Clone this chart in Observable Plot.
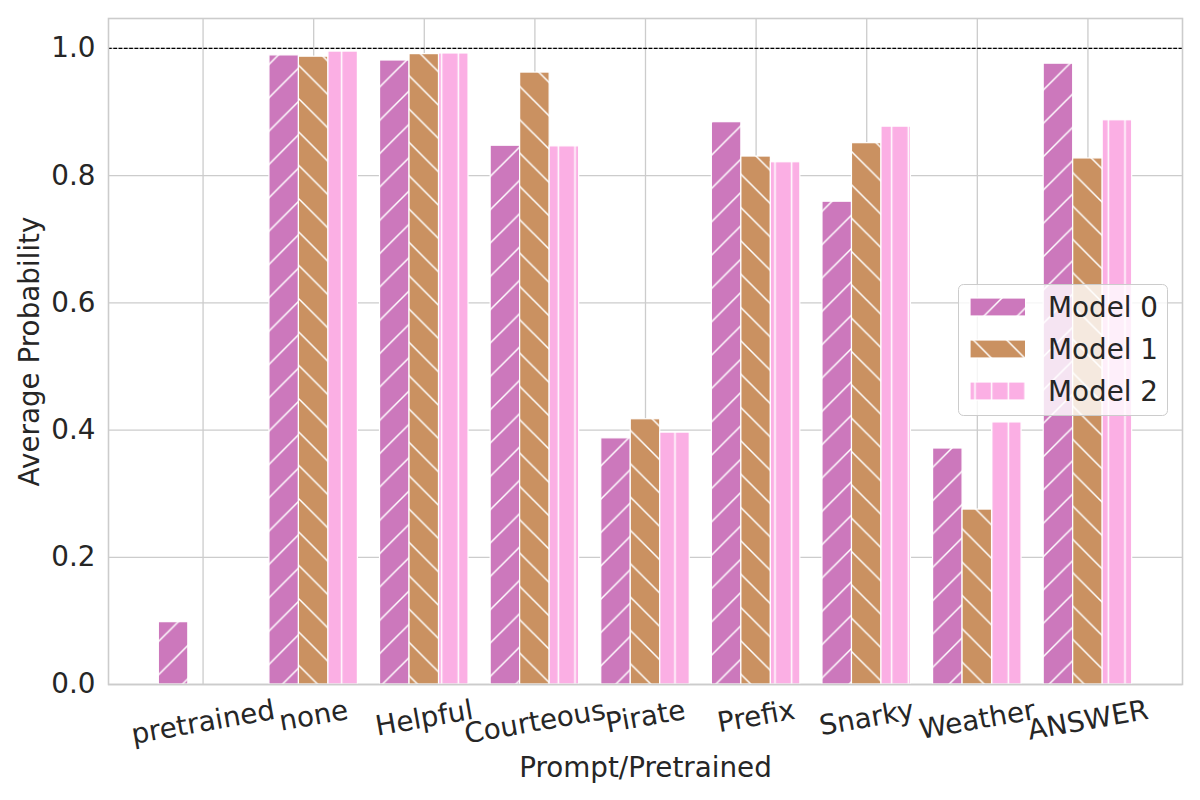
<!DOCTYPE html>
<html>
<head>
<meta charset="utf-8">
<script src="https://cdn.jsdelivr.net/npm/d3@7"></script>
<script src="https://cdn.jsdelivr.net/npm/@observablehq/plot@0.6"></script>
<style>
  body { margin: 0; background: #ffffff; }
  #chart { width: 1200px; height: 800px; }
</style>
</head>
<body>
<div id="chart"></div>
<script>
// ---- data ----
const categories = ["pretrained", "none", "Helpful", "Courteous", "Pirate", "Prefix", "Snarky", "Weather", "ANSWER"];
const models = ["Model 0", "Model 1", "Model 2"];
const model0 = [0.098, 0.989, 0.981, 0.847, 0.387, 0.884, 0.759, 0.371, 0.976];
const model1 = [0.0, 0.987, 0.991, 0.962, 0.417, 0.830, 0.851, 0.275, 0.827];
const model2 = [0.0, 0.995, 0.992, 0.846, 0.396, 0.821, 0.877, 0.412, 0.887];
const yTicks = [0.0, 0.2, 0.4, 0.6, 0.8, 1.0];
const referenceLine = [1.0];
const xLabel = "Prompt/Pretrained";
const yLabel = "Average Probability";

// ---- styling ----
const colors = ["#CC78BC", "#CA9161", "#FBAFE4"];
const W = 1200, H = 800;
const mL = 108, mR = 18, mT = 18, mB = 116;
const padOuter = 0.355;
const fontPx = 27.8;
const textColor = "#262626";
const gridColor = "#cccccc";

const series = [model0, model1, model2];
const rows = categories.flatMap((c, i) => models.map((m, j) => ({category: c, model: m, value: series[j][i]})));

// band geometry (grouped bars, 0.8 of the band, split among models)
const step = (W - mL - mR) / (categories.length + 2 * padOuter);
const barW = step * 0.8 / models.length;
const edge = step * 0.1;

// measure label widths to emulate matplotlib rotated label placement
const ctx = document.createElement("canvas").getContext("2d");
ctx.font = `${fontPx}px "DejaVu Sans"`;
const rad = 10 * Math.PI / 180;
const lineH = 1.164 * fontPx;

const barMarks = models.map((m, j) =>
  Plot.barY(rows.filter(d => d.model === m), {
    x: "category",
    y: "value",
    fill: `url(#hatch${j})`,
    stroke: "white",
    strokeWidth: 1.2,
    insetLeft: edge + j * barW,
    insetRight: edge + (models.length - 1 - j) * barW
  })
);

const tickLabelMarks = categories.map(c => {
  const w = ctx.measureText(c).width;
  const bboxH = w * Math.sin(rad) + lineH * Math.cos(rad);
  return Plot.text([c], {
    x: d => d,
    text: d => d,
    frameAnchor: "bottom",
    rotate: -10,
    textAnchor: "middle",
    lineAnchor: "middle",
    fontSize: fontPx,
    fill: textColor,
    dy: 9.5 + bboxH / 2
  });
});

const plot = Plot.plot({
  width: W,
  height: H,
  marginLeft: mL,
  marginRight: mR,
  marginTop: mT,
  marginBottom: mB,
  style: {fontFamily: "DejaVu Sans", fontSize: `${fontPx}px`, color: textColor, background: "white"},
  x: {domain: categories, paddingInner: 0, paddingOuter: padOuter, round: false, axis: null},
  y: {domain: [0, 1.047]},
  marks: [
    Plot.gridY({ticks: yTicks, stroke: gridColor, strokeOpacity: 1, strokeWidth: 1.3}),
    Plot.ruleX(categories, {x: d => d, stroke: gridColor, strokeOpacity: 1, strokeWidth: 1.3}),
    ...barMarks,
    Plot.ruleY(referenceLine, {stroke: "black", strokeWidth: 1.2, strokeDasharray: "3.7,1.6"}),
    Plot.frame({stroke: gridColor, strokeWidth: 1.6}),
    Plot.axisY({
      ticks: yTicks,
      tickFormat: d3.format(".1f"),
      tickSize: 0,
      tickPadding: 13,
      fontSize: fontPx,
      label: null
    }),
    ...tickLabelMarks,
    Plot.text([xLabel], {text: d => d, frameAnchor: "bottom", dy: 84, fontSize: fontPx, fill: textColor, lineAnchor: "middle"}),
    Plot.text([yLabel], {text: d => d, frameAnchor: "left", dx: -78, rotate: -90, fontSize: fontPx, fill: textColor, lineAnchor: "middle", textAnchor: "middle"})
  ]
});

document.getElementById("chart").appendChild(plot);

// ---- hatch patterns ----
const svg = d3.select(plot);
const defs = svg.insert("defs", ":first-child");
const P = 200 / 6; // hatch period
function pattern(id, w, h, color, paths) {
  const p = defs.append("pattern").attr("id", id).attr("patternUnits", "userSpaceOnUse")
    .attr("x", 0).attr("y", 0).attr("width", w).attr("height", h);
  p.append("rect").attr("width", w).attr("height", h).attr("fill", color);
  p.append("path").attr("d", paths).attr("stroke", "white").attr("stroke-width", 1.5).attr("fill", "none");
}
pattern("hatch0", P, P, colors[0], `M0,${P}L${P},0M-5,5L5,-5M${P - 5},${P + 5}L${P + 5},${P - 5}`);
pattern("hatch1", P, P, colors[1], `M0,0L${P},${P}M-5,${P - 5}L5,${P + 5}M${P - 5},-5L${P + 5},5`);
pattern("hatch2", P / 2, P / 2, colors[2], `M${P / 4},-1V${P / 2 + 1}`);

// ---- legend ----
const lg = svg.append("g").attr("font-family", "DejaVu Sans").attr("font-size", fontPx).attr("text-anchor", "start");
lg.append("rect").attr("x", 958.5).attr("y", 284.5).attr("width", 209).attr("height", 131).attr("rx", 5)
  .attr("fill", "white").attr("fill-opacity", 0.8).attr("stroke", gridColor).attr("stroke-width", 1);
const rowY = [307, 349, 391];
models.forEach((m, j) => {
  lg.append("rect").attr("x", 970).attr("y", rowY[j] - 9).attr("width", 55.6).attr("height", 18)
    .attr("fill", `url(#hatch${j})`).attr("stroke", "white").attr("stroke-width", 1.2);
  lg.append("text").attr("x", 1048).attr("y", rowY[j] + 10).attr("text-anchor", "start").attr("fill", textColor).text(m);
});
</script>
</body>
</html>
